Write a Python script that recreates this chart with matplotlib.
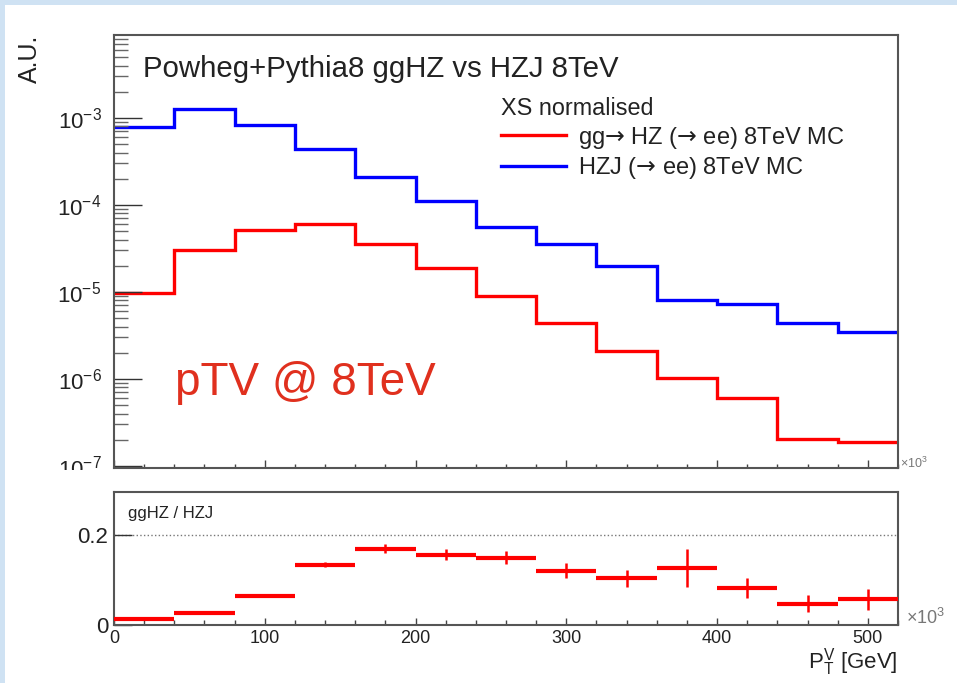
import matplotlib
matplotlib.use("Agg")
import matplotlib.pyplot as plt
from matplotlib.patches import Rectangle
from matplotlib.transforms import Bbox, TransformedBbox
from matplotlib.ticker import (FixedLocator, LogLocator, NullFormatter,
                               MultipleLocator, LogFormatterSciNotation,
                               FixedFormatter)

plt.rcParams['font.family'] = ['Liberation Sans', 'DejaVu Sans']
plt.rcParams['mathtext.fontset'] = 'custom'
plt.rcParams['mathtext.rm'] = 'Liberation Sans'
plt.rcParams['mathtext.it'] = 'Liberation Sans:italic'
plt.rcParams['mathtext.bf'] = 'Liberation Sans:bold'
plt.rcParams['mathtext.sf'] = 'DejaVu Sans'

# pT(V) binning in GeV
bin_edges = [0, 40, 80, 120, 160, 200, 240, 280, 320, 360, 400, 440, 480, 520]

# normalised distributions (A.U.)
gghz = [9.7e-6, 3.05e-5, 5.2e-5, 6.05e-5, 3.6e-5, 1.87e-5, 9.0e-6,
        4.37e-6, 2.12e-6, 1.03e-6, 6.0e-7, 2.03e-7, 1.89e-7]
hzj = [7.95e-4, 1.27e-3, 8.2e-4, 4.4e-4, 2.1e-4, 1.12e-4, 5.6e-5,
       3.56e-5, 2.0e-5, 8.1e-6, 7.3e-6, 4.4e-6, 3.47e-6]

# ggHZ / HZJ ratio and its statistical uncertainty
ratio = [0.0133, 0.0267, 0.065, 0.134, 0.170, 0.156, 0.150,
         0.121, 0.104, 0.127, 0.082, 0.047, 0.057]
ratio_err = [0.0005, 0.0008, 0.0012, 0.006, 0.010, 0.012, 0.014,
             0.016, 0.019, 0.042, 0.023, 0.019, 0.024]

ARROW = '$\\mathsf{\u2192}$'
legend_labels = ['gg' + ARROW + ' HZ (' + ARROW + ' ee) 8TeV MC',
                 'HZJ (' + ARROW + ' ee) 8TeV MC']

W, H = 957, 683
fig = plt.figure(figsize=(W / 100, H / 100), dpi=100)
fig.patch.set_facecolor('#cfe2f3')
fig.add_artist(Rectangle((5 / W, 0), 1, 1 - 5 / H, transform=fig.transFigure,
                         facecolor='white', edgecolor='none', zorder=-5))

spine_col = '#555555'
text_col = '#222222'


def px_box(left, top, right, bottom):
    return [left / W, 1 - bottom / H, (right - left) / W, (bottom - top) / H]


# ---------------- upper pad: distributions ----------------
ax = fig.add_axes(px_box(114, 35, 898, 468))
centers = [(a + b) / 2 for a, b in zip(bin_edges[:-1], bin_edges[1:])]
half_w = [(b - a) / 2 for a, b in zip(bin_edges[:-1], bin_edges[1:])]

h_red = ax.stairs(gghz, bin_edges, baseline=None, color='#ff0000', lw=2.4)
h_blue = ax.stairs(hzj, bin_edges, baseline=None, color='#0000ff', lw=2.4)

ax.set_yscale('log')
ax.set_xlim(0, 520)
ax.set_ylim(10 ** -7.023, 10 ** -2.046)
ax.yaxis.set_major_locator(FixedLocator([1e-7, 1e-6, 1e-5, 1e-4, 1e-3]))
ax.yaxis.set_major_formatter(LogFormatterSciNotation())
ax.yaxis.set_minor_locator(LogLocator(base=10, subs=range(2, 10), numticks=20))
ax.yaxis.set_minor_formatter(NullFormatter())
ax.xaxis.set_major_locator(MultipleLocator(100))
ax.xaxis.set_minor_locator(MultipleLocator(20))

ax.tick_params(axis='y', which='major', direction='in', length=20, width=1.0,
               color='#333333', labelsize=16, pad=9, labelcolor=text_col,
               right=False)
ax.tick_params(axis='y', which='minor', direction='in', length=10, width=1.0,
               color='#666666', right=False)
ax.tick_params(axis='x', which='major', direction='in', length=6, width=1.0,
               color='#444444', labelbottom=False, top=False)
ax.tick_params(axis='x', which='minor', direction='in', length=3, width=1.0,
               color='#444444', top=False)
for s in ax.spines.values():
    s.set_color(spine_col)
    s.set_linewidth(1.5)

# lower pad hides the bottom of the lowest y label
clip = TransformedBbox(Bbox([[0, 1 - 470 / H], [1, 1]]), fig.transFigure)
for t in ax.yaxis.get_major_ticks(5):
    t.label1.set_clip_box(clip)
    t.label1.set_clip_on(True)

leg = ax.legend([h_red, h_blue], legend_labels, title='XS normalised',
                loc='upper left', bbox_to_anchor=(501 / W, 1 - 97 / H),
                bbox_transform=fig.transFigure, frameon=False,
                fontsize=17, title_fontsize=16.8, handlelength=2.75,
                handletextpad=0.5, labelspacing=0.2, borderpad=0,
                borderaxespad=0, alignment='left')
for txt in leg.get_texts():
    txt.set_color(text_col)
leg.get_title().set_color(text_col)

fig.text(143 / W, 1 - 77 / H, 'Powheg+Pythia8 ggHZ vs HZJ 8TeV',
         fontsize=21.2, color=text_col, va='baseline', ha='left')
fig.text(175 / W, 1 - 395 / H, 'pTV @ 8TeV', fontsize=33,
         color='#e0301e', va='baseline', ha='left')
fig.text(30 / W, 1 - 35 / H, 'A.U.', rotation=90, fontsize=18,
         color=text_col, ha='center', va='top')
fig.text(900 / W, 1 - 463 / H, r'$\times\mathregular{10^{3}}$', fontsize=9,
         color='#777777', ha='left', va='center')

# ---------------- lower pad: ratio ----------------
rax = fig.add_axes(px_box(114, 492, 898, 625))
rax.set_xlim(0, 520)
rax.set_ylim(0, 0.2956)
rax.axhline(0.2, color='#777777', ls=':', lw=1.0, zorder=1)
rax.errorbar(centers, ratio, xerr=half_w, fmt='none', ecolor='#ff0000',
             elinewidth=3.0, capsize=0, zorder=3)
rax.errorbar(centers, ratio, yerr=ratio_err, fmt='none', ecolor='#ff0000',
             elinewidth=1.8, capsize=0, zorder=3)

rax.yaxis.set_major_locator(FixedLocator([0, 0.2]))
rax.yaxis.set_major_formatter(FixedFormatter(['0', '0.2']))
rax.xaxis.set_major_locator(MultipleLocator(100))
rax.xaxis.set_minor_locator(MultipleLocator(20))
rax.tick_params(axis='y', which='major', direction='in', length=13, width=1.0,
                color='#333333', labelsize=16, pad=4, labelcolor=text_col,
                right=False)
rax.tick_params(axis='x', which='major', direction='in', length=5, width=1.0,
                color='#444444', labelsize=13, pad=3.5, labelcolor=text_col,
                top=False)
rax.tick_params(axis='x', which='minor', direction='in', length=3.5,
                width=1.0, color='#444444', top=False)
for s in rax.spines.values():
    s.set_color(spine_col)
    s.set_linewidth(1.5)

rax.text(0.018, 0.84, 'ggHZ / HZJ', transform=rax.transAxes, fontsize=12,
         color=text_col, ha='left', va='center')
fig.text(906 / W, 1 - 618 / H, r'$\times\mathregular{10^{3}}$', fontsize=13,
         color='#777777', ha='left', va='center')
fig.text(898 / W, 1 - 669 / H,
         r'P$_{\mathrm{T}}^{\mathrm{V}}$ [GeV]', fontsize=16,
         color=text_col, ha='right', va='baseline')

fig.savefig('out.png', dpi=100, facecolor=fig.get_facecolor())
